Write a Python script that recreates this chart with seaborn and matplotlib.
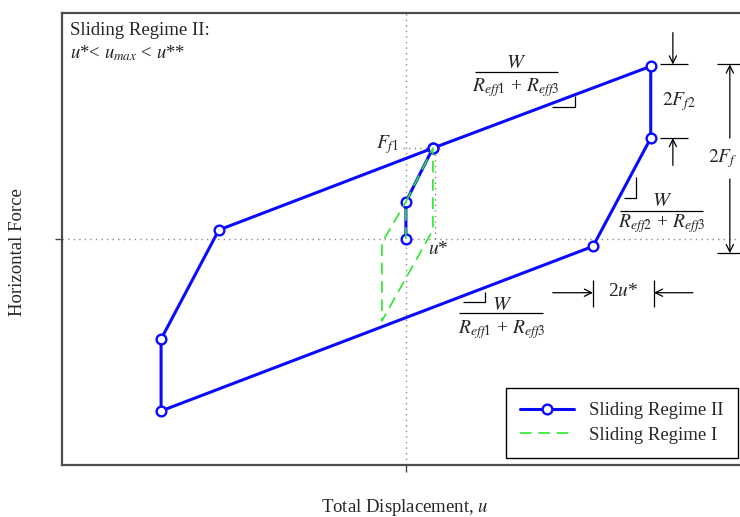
import matplotlib
matplotlib.use("Agg")
import matplotlib.pyplot as plt
import pandas as pd
import seaborn as sns

# Displacement in units of u*, force in units of F_f1
regime2_u = [0.0, 0.0, 1.0, 9.07, 9.07, 6.93, -9.07, -9.07, -6.93, 1.0]
regime2_f = [0.0, 0.41, 1.0, 1.90, 1.11, -0.08, -1.89, -1.10, 0.10, 1.0]
regime1_u = [0.0, 0.0, 1.0, 1.0, -0.89, -0.89, 0.0]
regime1_f = [0.0, 0.41, 1.0, 0.10, -0.90, -0.04, 0.41]
series_labels = ["Sliding Regime II", "Sliding Regime I"]

sns.set_theme(style="white")
plt.rcParams["font.family"] = ["Liberation Serif", "DejaVu Serif"]
plt.rcParams["mathtext.fontset"] = "stix"

BLUE = "#0a0aff"
GREEN = "#2ee82e"
INK = "black"

fig = plt.figure(figsize=(7.4, 5.17), dpi=100)
ax = fig.add_axes([0.0838, 0.1006, 0.928, 0.874])
ax.set_xlim(-12.74, 12.70)
ax.set_ylim(-2.484, 2.484)

# reference axes through the origin
dot = dict(color="#8a8a8a", lw=1.0, ls=(0, (1, 3)), zorder=1)
ax.axhline(0, **dot)
ax.axvline(0, **dot)
ax.plot([-0.12, 1.0], [1.0, 1.0], **dot)
ax.plot([1.07, 1.07], [0.0, 1.0], **dot)

df2 = pd.DataFrame({"u": regime2_u, "F": regime2_f})
df1 = pd.DataFrame({"u": regime1_u, "F": regime1_f})

sns.lineplot(data=df2, x="u", y="F", sort=False, estimator=None, ax=ax,
             color=BLUE, lw=2.2, marker="o", markersize=7,
             markerfacecolor="white", markeredgecolor=BLUE,
             markeredgewidth=1.7, label=series_labels[0], zorder=3)
sns.lineplot(data=df1, x="u", y="F", sort=False, estimator=None, ax=ax,
             color=GREEN, lw=1.2, ls=(0, (7, 4)),
             label=series_labels[1], zorder=4)

ax.set_xlabel("")
ax.set_ylabel("")
ax.set_xticks([0])
ax.set_yticks([0])
ax.set_xticklabels([])
ax.set_yticklabels([])
ax.tick_params(direction="out", length=5, width=1.0, color="#444444",
               bottom=True, left=True)
for s in ax.spines.values():
    s.set_color("#4d4d4d")
    s.set_linewidth(1.6)

fs = 13.5
mfs = 14


def seg(xs, ys, lw=0.9):
    ax.plot(xs, ys, color=INK, lw=lw, solid_capstyle="butt", zorder=5)


def arrow(tail, head):
    ax.annotate("", xy=head, xytext=tail,
                arrowprops=dict(arrowstyle="->", color=INK, lw=0.9,
                                shrinkA=0, shrinkB=0, mutation_scale=13))


def fraction(xc, y_num, y_bar, y_den, x0, x1, den):
    ax.text(xc, y_num, r"$W$", ha="center", va="center", fontsize=14.5)
    seg([x0, x1], [y_bar, y_bar])
    ax.text(xc, y_den, den, ha="center", va="center", fontsize=mfs)


# header text
ax.text(0.012, 0.962, "Sliding Regime II:", transform=ax.transAxes,
        ha="left", va="center", fontsize=fs)
ax.text(0.012, 0.912, r"$u$*< $u_{max}$ < $u$**", transform=ax.transAxes,
        ha="left", va="center", fontsize=fs)

# slope labels
fraction(4.07, 1.93, 1.835, 1.67, 2.56, 5.63, r"$R_{eff1}$ + $R_{eff3}$")
seg([5.41, 6.26, 6.26], [1.45, 1.45, 1.57])
fraction(9.48, 0.41, 0.31, 0.17, 7.93, 11.0, r"$R_{eff2}$ + $R_{eff3}$")
seg([8.07, 8.52, 8.52], [0.45, 0.45, 0.68])
fraction(3.56, -0.725, -0.81, -0.99, 1.96, 5.07, r"$R_{eff1}$ + $R_{eff3}$")
seg([2.11, 2.93, 2.93], [-0.69, -0.69, -0.58])

# point labels
ax.text(-0.67, 1.04, r"$F_{f1}$", ha="center", va="center", fontsize=mfs)
ax.text(1.19, -0.12, r"$u$*", ha="center", va="center", fontsize=mfs)

# 2F_f2 dimension
seg([9.41, 10.44], [1.92, 1.92])
seg([9.41, 10.44], [1.11, 1.11])
arrow((9.89, 2.27), (9.89, 1.92))
arrow((9.89, 0.81), (9.89, 1.11))
ax.text(10.1, 1.51, r"$2F_{f2}$", ha="center", va="center", fontsize=mfs)

# 2F_f dimension
seg([11.52, 12.7], [1.92, 1.92])
seg([11.52, 12.7], [-0.155, -0.155])
arrow((12.0, 1.11), (12.0, 1.92))
arrow((12.0, 0.66), (12.0, -0.155))
ax.text(12.3, 0.88, r"$2F_f$", ha="right", va="center", fontsize=mfs,
        bbox=dict(facecolor="white", edgecolor="none", pad=1.0))

# 2u* dimension
seg([6.93, 6.93], [-0.45, -0.75])
seg([9.19, 9.19], [-0.45, -0.75])
arrow((5.44, -0.59), (6.93, -0.59))
arrow((10.63, -0.59), (9.19, -0.59))
ax.text(8.05, -0.58, r"2$u$*", ha="center", va="center", fontsize=mfs)

leg = ax.legend(loc="lower right", bbox_to_anchor=(0.984, 0.0155),
                borderaxespad=0, frameon=True, fancybox=False,
                edgecolor="black", framealpha=1, fontsize=13.5,
                handlelength=2.9, borderpad=0.75, labelspacing=0.4,
                handletextpad=0.8)
leg.get_frame().set_linewidth(1.0)

fig.text(18 / 740, 1 - 252 / 517, "Horizontal Force", rotation=90,
         ha="center", va="center", fontsize=fs)
fig.text(405 / 740, 1 - 508 / 517, r"Total Displacement, $u$",
         ha="center", va="center", fontsize=fs)

fig.savefig("out.png", dpi=100)
